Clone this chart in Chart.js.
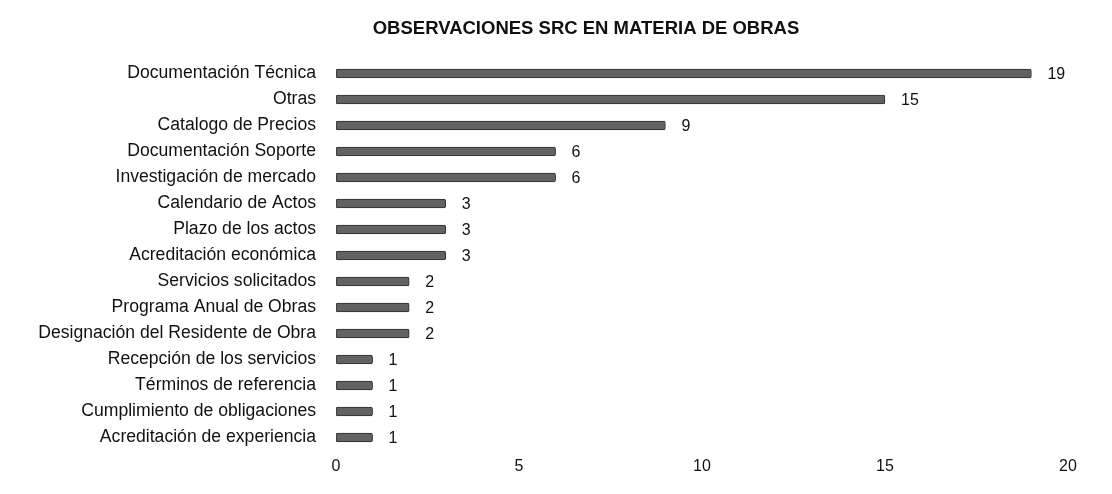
<!DOCTYPE html>
<html>
<head>
<meta charset="utf-8">
<script src="https://cdn.jsdelivr.net/npm/chart.js@4.4.1/dist/chart.umd.min.js"></script>
<style>
  html, body { margin: 0; padding: 0; background: #fff; }
  #wrap { width: 1112px; height: 494px; position: relative; }
</style>
</head>
<body>
<div id="wrap"><canvas id="chart"></canvas></div>
<script>
// Observaciones SRC en materia de obras
const chartTitle = 'OBSERVACIONES SRC EN MATERIA DE OBRAS';

const categories = [
  'Documentación Técnica',
  'Otras',
  'Catalogo de Precios',
  'Documentación Soporte',
  'Investigación de mercado',
  'Calendario de Actos',
  'Plazo de los actos',
  'Acreditación económica',
  'Servicios solicitados',
  'Programa Anual de Obras',
  'Designación del Residente de Obra',
  'Recepción de los servicios',
  'Términos de referencia',
  'Cumplimiento de obligaciones',
  'Acreditación de experiencia'
];

const observaciones = [19, 15, 9, 6, 6, 3, 3, 3, 2, 2, 2, 1, 1, 1, 1];

const xTicks = [0, 5, 10, 15, 20];

const FONT = '"Liberation Sans", Arial, sans-serif';

// draws the title and the value next to each bar
const labelsPlugin = {
  id: 'labelsPlugin',
  afterDatasetsDraw(chart) {
    const ctx = chart.ctx;
    ctx.save();
    ctx.fillStyle = '#111';
    ctx.font = 'bold 18.5px ' + FONT;
    ctx.textAlign = 'center';
    ctx.textBaseline = 'middle';
    ctx.fillText(chartTitle, 586, 29);

    ctx.font = '16px ' + FONT;
    ctx.textAlign = 'left';
    const meta = chart.getDatasetMeta(0);
    meta.data.forEach((bar, i) => {
      ctx.fillText(String(observaciones[i]), bar.x + 16, bar.y + 1);
    });
    ctx.restore();
  }
};

new Chart(document.getElementById('chart'), {
  type: 'bar',
  data: {
    labels: categories,
    datasets: [{
      label: 'Observaciones',
      data: observaciones,
      backgroundColor: '#626262',
      borderColor: '#2e2e2e',
      borderWidth: 1,
      borderSkipped: false,
      borderRadius: 2,
      barThickness: 9
    }]
  },
  options: {
    indexAxis: 'y',
    responsive: true,
    maintainAspectRatio: false,
    animation: false,
    layout: {
      padding: { top: 60.5, left: 0, right: 44, bottom: 0 }
    },
    plugins: {
      legend: { display: false },
      title: { display: false },
      tooltip: { enabled: false }
    },
    scales: {
      x: {
        min: 0,
        max: 20,
        afterBuildTicks: (scale) => {
          scale.ticks = xTicks.map(v => ({ value: v }));
        },
        afterFit: (scale) => { scale.height = 43.5; },
        grid: { display: false, drawTicks: false },
        border: { display: false },
        ticks: {
          padding: 6,
          color: '#111',
          font: { family: FONT, size: 16 }
        }
      },
      y: {
        afterFit: (scale) => { scale.width = 336; },
        grid: { display: false, drawTicks: false },
        border: { display: false },
        ticks: {
          padding: 20,
          color: '#111',
          font: { family: FONT, size: 17.6 }
        }
      }
    }
  },
  plugins: [labelsPlugin]
});
</script>
</body>
</html>
